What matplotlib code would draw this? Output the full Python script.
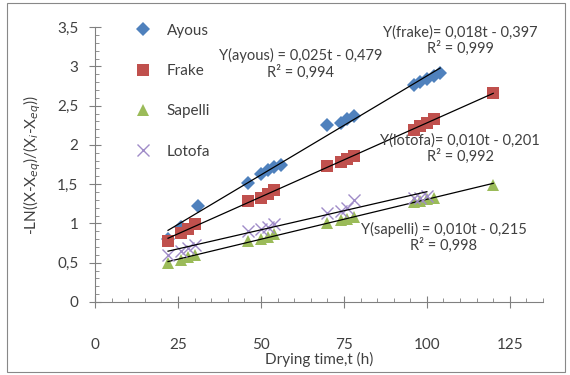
import matplotlib.pyplot as plt
import numpy as np
from matplotlib.patches import Rectangle

plt.rcParams['font.family'] = ['Lato', 'DejaVu Sans']

# drying time (h) and -LN((X-Xeq)/(Xi-Xeq))
t_ayous = [22, 26, 31, 46, 50, 52, 54, 56, 70, 74, 76, 78, 96, 98, 100, 102, 104]
y_ayous = [0.80, 0.95, 1.22, 1.51, 1.63, 1.68, 1.72, 1.75, 2.25, 2.28, 2.33, 2.37, 2.76, 2.80, 2.84, 2.88, 2.92]

t_frake = [22, 26, 28, 30, 46, 50, 52, 54, 70, 74, 76, 78, 96, 98, 100, 102, 120]
y_frake = [0.78, 0.88, 0.93, 0.99, 1.28, 1.33, 1.38, 1.42, 1.73, 1.78, 1.82, 1.86, 2.19, 2.24, 2.28, 2.33, 2.66]

t_sapelli = [22, 26, 28, 30, 46, 50, 52, 54, 70, 74, 76, 78, 96, 98, 100, 102, 120]
y_sapelli = [0.50, 0.53, 0.57, 0.60, 0.78, 0.80, 0.83, 0.86, 1.01, 1.04, 1.06, 1.08, 1.27, 1.29, 1.31, 1.33, 1.49]

t_lotofa = [22, 26, 28, 30, 46, 50, 52, 54, 70, 74, 76, 78, 96, 98, 100]
y_lotofa = [0.60, 0.65, 0.69, 0.72, 0.90, 0.93, 0.96, 0.99, 1.13, 1.16, 1.20, 1.30, 1.33, 1.33, 1.35]

eq_labels = {
    'ayous': "Y(ayous) = 0,025t - 0,479\nR² = 0,994",
    'frake': "Y(frake)= 0,018t - 0,397\nR² = 0,999",
    'lotofa': "Y(lotofa)= 0,010t - 0,201\nR² = 0,992",
    'sapelli': "Y(sapelli) = 0,010t - 0,215\nR² = 0,998",
}

txt = '#404040'

fig = plt.figure(figsize=(5.7, 3.75), dpi=100)
ax = fig.add_axes([0.1667, 0.1947, 0.786, 0.733])

series = [
    ('Ayous', t_ayous, y_ayous, 'D', '#4F81BD', 7),
    ('Frake', t_frake, y_frake, 's', '#C0504D', 9),
    ('Sapelli', t_sapelli, y_sapelli, '^', '#9BBB59', 9),
    ('Lotofa', t_lotofa, y_lotofa, 'x', '#A08CC8', 9),
]
for name, t, y, m, c, ms in series:
    ax.plot(t, y, linestyle='none', marker=m, color=c, markersize=ms,
            markeredgewidth=1 if m == 'x' else 0, label=name)
    k, b = np.polyfit(t, y, 1)
    tt = np.array([min(t), max(t)])
    ax.plot(tt, k * tt + b, color='black', lw=0.9)

ax.set_xlim(0, 135)
ax.set_ylim(0, 3.5)
ax.set_xticks([0, 25, 50, 75, 100, 125])
ax.set_xticks(np.arange(0, 136, 5), minor=True)
ax.set_yticks(np.arange(0, 3.51, 0.5))
ax.set_yticks(np.arange(0, 3.51, 0.1), minor=True)
ax.set_yticklabels(['0', '0,5', '1', '1,5', '2', '2,5', '3', '3,5'])

for s in ['top', 'right']:
    ax.spines[s].set_visible(False)
for s in ['left', 'bottom']:
    ax.spines[s].set_color('#808080')

ax.tick_params(axis='x', which='major', direction='inout', length=8, pad=22, colors='#808080', labelcolor=txt, labelsize=11)
ax.tick_params(axis='y', which='major', direction='inout', length=8, pad=8, colors='#808080', labelcolor=txt, labelsize=11)
ax.tick_params(which='minor', direction='in', length=3, colors='#808080')

ax.set_xlabel('Drying time,t (h)', color=txt, fontsize=11, labelpad=0)
ax.set_ylabel(r'-LN((X-X$_{eq}$)/(X$_{i}$-X$_{eq}$))', color=txt, fontsize=11, labelpad=10)

ax.legend(loc='upper left', bbox_to_anchor=(0.042, 1.062), frameon=False, fontsize=11,
          labelspacing=1.72, handletextpad=0.55, labelcolor=txt)

ax.text(62, 3.23, eq_labels['ayous'], ha='center', va='top', fontsize=10.5, color=txt, linespacing=1.1)
ax.text(110, 3.52, eq_labels['frake'], ha='center', va='top', fontsize=10.5, color=txt, linespacing=1.1)
ax.text(110, 2.15, eq_labels['lotofa'], ha='center', va='top', fontsize=10.5, color=txt, linespacing=1.1)
ax.text(105, 1.02, eq_labels['sapelli'], ha='center', va='top', fontsize=10.5, color=txt, linespacing=1.1)

fig.patches.append(Rectangle((0.012, 0.008), 0.98, 0.985, transform=fig.transFigure,
                             fill=False, edgecolor='#888888', lw=0.8))

fig.savefig('out.png', dpi=100)
